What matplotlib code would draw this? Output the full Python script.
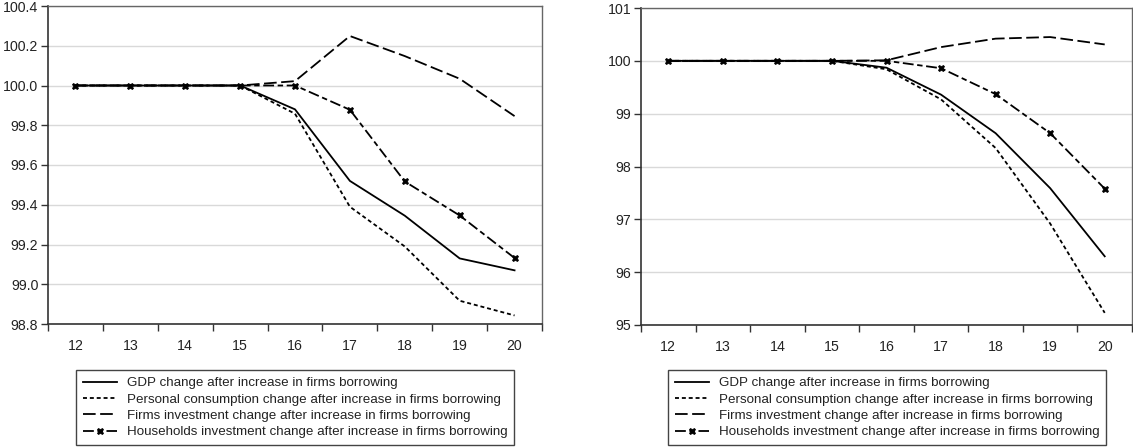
import matplotlib.pyplot as plt
from matplotlib.ticker import FixedLocator, NullFormatter

plt.rcParams["font.family"] = ["Liberation Sans", "DejaVu Sans"]

periods = ["12", "13", "14", "15", "16", "17", "18", "19", "20"]

labels = [
    "GDP change after increase in firms borrowing",
    "Personal consumption change after increase in firms borrowing",
    "Firms investment change after increase in firms borrowing",
    "Households investment change after increase in firms borrowing",
]

# left panel
gdp_a = [100.0, 100.0, 100.0, 100.0, 99.88, 99.52, 99.345, 99.13, 99.07]
cons_a = [100.0, 100.0, 100.0, 100.0, 99.858, 99.39, 99.19, 98.917, 98.843]
firms_a = [100.0, 100.0, 100.0, 100.0, 100.022, 100.249, 100.148, 100.034, 99.846]
house_a = [100.0, 100.0, 100.0, 100.0, 100.0, 99.878, 99.517, 99.346, 99.132]

# right panel
gdp_b = [100.0, 100.0, 100.0, 100.0, 99.87, 99.36, 98.63, 97.59, 96.30]
cons_b = [100.0, 100.0, 100.0, 100.0, 99.84, 99.27, 98.35, 96.92, 95.23]
firms_b = [100.0, 100.0, 100.0, 100.0, 100.01, 100.26, 100.42, 100.45, 100.31]
house_b = [100.0, 100.0, 100.0, 100.0, 100.0, 99.86, 99.37, 98.63, 97.58]

STYLES = [
    dict(linestyle="-"),
    dict(linestyle=(0, (2.2, 1.6))),
    dict(linestyle=(0, (7, 2.5))),
    dict(linestyle=(0, (6, 2, 3, 2)), marker="X", markersize=4.8,
         markeredgewidth=0.5),
]


def draw_panel(ax, series, ylim, yticks, yfmt):

    x = list(range(len(periods)))

    lines = []
    for vals, style in zip(series, STYLES):
        ln, = ax.plot(x, vals, color="black", linewidth=1.3, **style)
        lines.append(ln)

    ax.set_xlim(-0.5, len(periods) - 0.5)
    ax.set_ylim(*ylim)

    ax.xaxis.set_major_locator(FixedLocator([i - 0.5 for i in range(len(periods) + 1)]))
    ax.xaxis.set_major_formatter(NullFormatter())
    ax.xaxis.set_minor_locator(FixedLocator(x))
    ax.set_xticklabels(periods, minor=True)
    ax.tick_params(axis="x", which="major", direction="out", length=5,
                   width=1, color="#333333")
    ax.tick_params(axis="x", which="minor", length=0, pad=11,
                   labelsize=10.2, labelcolor="#222222")

    ax.set_yticks(yticks)
    ax.set_yticklabels([yfmt.format(v) for v in yticks])
    ax.tick_params(axis="y", direction="out", length=5, width=1,
                   color="#333333", labelsize=10.2, labelcolor="#222222", pad=2)

    ax.yaxis.grid(True, color="#d9d9d9", linewidth=1)
    ax.set_axisbelow(True)

    for side in ["left", "bottom"]:
        ax.spines[side].set_color("#333333")
        ax.spines[side].set_linewidth(1.2)
    for side in ["top", "right"]:
        ax.spines[side].set_color("#666666")
        ax.spines[side].set_linewidth(1)

    return lines


fig = plt.figure(figsize=(11.33, 4.47), dpi=100)

ax1 = fig.add_axes([48 / 1133, 1 - 324 / 447, 494 / 1133, 318 / 447])
ax2 = fig.add_axes([641 / 1133, 1 - 325 / 447, 491 / 1133, 317 / 447])

lines1 = draw_panel(
    ax1,
    [gdp_a, cons_a, firms_a, house_a],
    (98.8, 100.4),
    [98.8, 99.0, 99.2, 99.4, 99.6, 99.8, 100.0, 100.2, 100.4],
    "{:.1f}",
)

lines2 = draw_panel(
    ax2,
    [gdp_b, cons_b, firms_b, house_b],
    (95, 101),
    [95, 96, 97, 98, 99, 100, 101],
    "{:.0f}",
)

for lines, x0 in [(lines1, 76 / 1133), (lines2, 668 / 1133)]:
    leg = fig.legend(
        lines,
        labels,
        loc="lower left",
        bbox_to_anchor=(x0, 2 / 447),
        fontsize=9.6,
        frameon=True,
        fancybox=False,
        framealpha=1,
        edgecolor="#444444",
        handlelength=2.6,
        handletextpad=0.7,
        labelspacing=0.3,
        borderpad=0.5,
        borderaxespad=0,
    )
    leg.get_frame().set_linewidth(1)
    for t in leg.get_texts():
        t.set_color("#222222")

fig.savefig("out.png", dpi=100)
